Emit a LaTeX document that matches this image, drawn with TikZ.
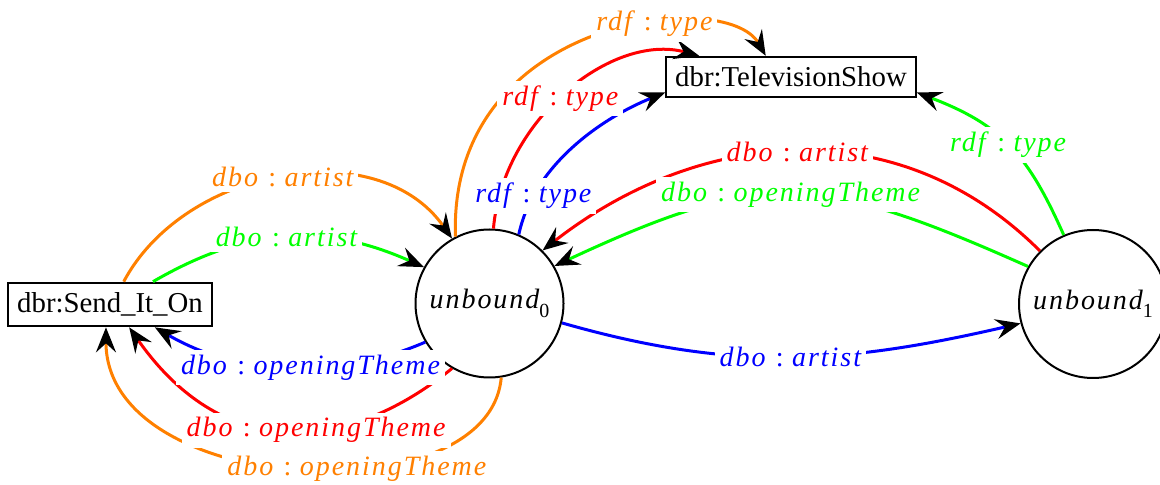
\documentclass[tikz,border=0pt]{standalone}
\usepackage{fontspec}
\setmainfont{Liberation Serif}
\newfontfamily\lblfont{Liberation Serif}[LetterSpace=7]
\usetikzlibrary{arrows.meta}
\newcommand\relname[2]{#1\hspace{0.3em}\textup{:}\hspace{0.3em}#2}
\newcommand\subidx[1]{\raisebox{-0.3em}{\upshape\fontsize{10}{10}\selectfont #1}}
\begin{document}
\begin{tikzpicture}[x=0.5pt,y=0.5pt,
  every node/.style={font=\fontsize{14.4}{17}\selectfont},
  term/.style={draw, line width=1pt, inner xsep=4.5pt, inner ysep=5pt},
  var/.style={draw, circle, line width=1pt, minimum size=74pt, inner sep=0pt,
    font=\lblfont\itshape\fontsize{14}{16}\selectfont},
  rel/.style={line width=1.5pt, -{Stealth[length=12.5pt,width=10pt,inset=4.5pt,black]}},
  lbl/.style={fill=white, inner sep=2.5pt, font=\lblfont\itshape\fontsize{14}{16}\selectfont},
]
\useasboundingbox (0,0) rectangle (1160,-485);

% resources and variables
\node[term] (send) at (110,-304.5) {dbr:Send\_It\_On};
\node[term] (tv) at (791,-77) {dbr:TelevisionShow};
\node[var] (u0) at (489.5,-303.5) {unbound\subidx{0}};
\node[var] (u1) at (1093,-304) {unbound\subidx{1}};

% connectors (label positions kept as coordinates)
\draw[rel,orange] (send.59) .. controls +(62:130) and +(125:130) .. coordinate[pos=0.5] (l1) (u0.120);
\draw[rel,green] (send.28) .. controls +(30:110) and +(156:110) .. coordinate[pos=0.5] (l2) (u0.151);
\draw[rel,blue] (u0.211) .. controls +(203.5:70) and +(330:120) .. coordinate[pos=0.48] (l3) (send.333);
\draw[rel,red] (u0.240) .. controls +(219:130) and +(305:170) .. coordinate[pos=0.42] (l4) (send.310);
\draw[rel,orange] (u0.279) .. controls +(265:140) and +(270:170) .. coordinate[pos=0.4] (l5) (send.260);
\draw[rel,orange] (u0.117) .. controls +(92:220) and +(120:80) .. coordinate[pos=0.64] (l6) (tv.140);
\draw[rel,red] (u0.87) .. controls +(85:110) and +(165:90) .. coordinate[pos=0.47] (l7) (tv.167);
\draw[rel,blue] (u0.67) .. controls +(78:70) and +(202:70) .. coordinate[pos=0.2] (l8) (tv.187);
\draw[rel,red] (u1.135) .. controls +(135:200) and +(38:200) .. coordinate[pos=0.5] (l9) (u0.45);
\draw[rel,green] (u1.150) .. controls +(156:230) and +(25:230) .. coordinate[pos=0.5] (l10) (u0.30);
\draw[rel,green] (u1.113) .. controls +(114:90) and +(-21:90) .. coordinate[pos=0.5] (l11) (tv.-7);
\draw[rel,blue] (u0.345) .. controls +(-16:180) and +(193:180) .. coordinate[pos=0.5] (l12) (u1.195);

% edge labels on top
\node[lbl,text=orange] (t1) at (l1) {\relname{dbo}{artist}};
\node[lbl,text=green] (t2) at (l2) {\relname{dbo}{artist}};
\node[lbl,text=blue] (t3) at (l3) {\relname{dbo}{openingTheme}};
\node[lbl,text=red] (t4) at (l4) {\relname{dbo}{openingTheme}};
\node[lbl,text=orange] (t5) at (l5) {\relname{dbo}{openingTheme}};
\node[lbl,text=orange] (t6) at (l6) {\relname{rdf\kern0.12em}{type}};
\node[lbl,text=red] (t7) at (l7) {\relname{rdf\kern0.12em}{type}};
\node[lbl,text=blue] (t8) at (l8) {\relname{rdf\kern0.12em}{type}};
\node[lbl,text=red] (t9) at (l9) {\relname{dbo}{artist}};
\node[lbl,text=green] (t10) at (l10) {\relname{dbo}{openingTheme}};
\node[lbl,text=green] (t11) at (l11) {\relname{rdf\kern0.12em}{type}};
\node[lbl,text=blue] (t12) at (l12) {\relname{dbo}{artist}};
\end{tikzpicture}
\end{document}
